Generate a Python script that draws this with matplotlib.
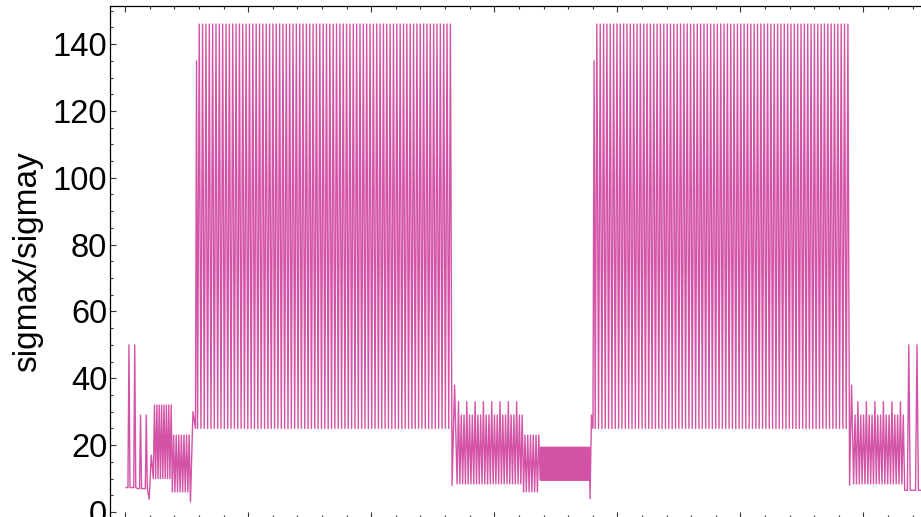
import numpy as np
import matplotlib
matplotlib.use("Agg")
import matplotlib.pyplot as plt
from matplotlib.ticker import MultipleLocator, NullFormatter

# Piecewise description of the sigmax/sigmay ratio along the lattice:
# each section oscillates n times between a low and a high value.
seg_start = [0.008, 0.102, 0.196, 0.229, 0.384, 0.531, 0.572, 0.589,
             2.657, 2.698, 3.238, 3.373, 3.778, 3.802, 3.820,
             5.887, 5.920, 6.335]
seg_end = [0.102, 0.196, 0.229, 0.384, 0.531, 0.572, 0.589, 2.657,
           2.698, 3.238, 3.373, 3.778, 3.802, 3.820, 5.887,
           5.920, 6.335, 6.468]
seg_cycles = [2, 2, 1, 8, 7, 1, 1, 76, 1, 24, 6, 40, 1, 1, 76, 1, 18, 2]
seg_low = [7.3, 7.0, 3.8, 10.0, 6.0, 3.0, 25.0, 25.0, 8.0, 8.4, 6.0, 9.5,
           4.0, 25.0, 25.0, 8.0, 8.4, 6.5]
seg_high = [[50], [29], [17], [32], [23], [30], [135], [146], [38],
            [33, 29, 29], [23], [19.4], [29], [135], [146], [38],
            [29, 33, 29], [50]]
# fraction of each cycle taken by the excursion (1 = plain zig-zag)
seg_peak_width = [0.35, 0.35, 1, 1, 1, 1, 1, 1, 1, 1, 1, 1, 1, 1, 1, 1, 1, 0.35]

ts, vs = [], []
for t0, t1, n, lo, hi, w in zip(seg_start, seg_end, seg_cycles, seg_low,
                                seg_high, seg_peak_width):
    dt = (t1 - t0) / n
    for k in range(n):
        c = t0 + (k + 0.5) * dt
        peak = hi[k % len(hi)]
        if w < 1:
            ts += [t0 + k * dt, c - 0.5 * w * dt, c, c + 0.5 * w * dt]
            vs += [lo, lo, peak, lo]
        else:
            ts += [t0 + k * dt, c]
            vs += [lo, peak]
ts.append(seg_end[-1])
vs.append(seg_low[-1])

fig = plt.figure(figsize=(9.21, 5.17), dpi=100)
ax = fig.add_axes([110 / 921, -1 / 517, 815 / 921, 512 / 517])
ax.plot(ts, vs, color="#C82890", lw=1.0, alpha=0.8)

ax.set_xlim(-0.1226, 6.5)
ax.set_ylim(-1.8, 151.4)

ax.xaxis.set_major_locator(MultipleLocator(1))
ax.xaxis.set_minor_locator(MultipleLocator(0.2))
ax.yaxis.set_major_locator(MultipleLocator(20))
ax.yaxis.set_minor_locator(MultipleLocator(5))
ax.xaxis.set_major_formatter(NullFormatter())

ax.tick_params(which="both", direction="in", top=True, bottom=True,
               left=True, right=False, width=0.8, colors="#333333")
ax.tick_params(which="major", length=4.5, pad=2)
ax.tick_params(which="minor", length=2.5)
ax.tick_params(axis="y", labelsize=23.5, labelcolor="black")
for lab in ax.get_yticklabels():
    lab.set_family("Liberation Sans")

ax.spines["right"].set_visible(False)
for s in ("left", "top", "bottom"):
    ax.spines[s].set_linewidth(0.9)

ax.set_ylabel("sigmax/sigmay", fontsize=24, family="Liberation Sans",
              labelpad=7)

fig.savefig("out.png", dpi=100)
